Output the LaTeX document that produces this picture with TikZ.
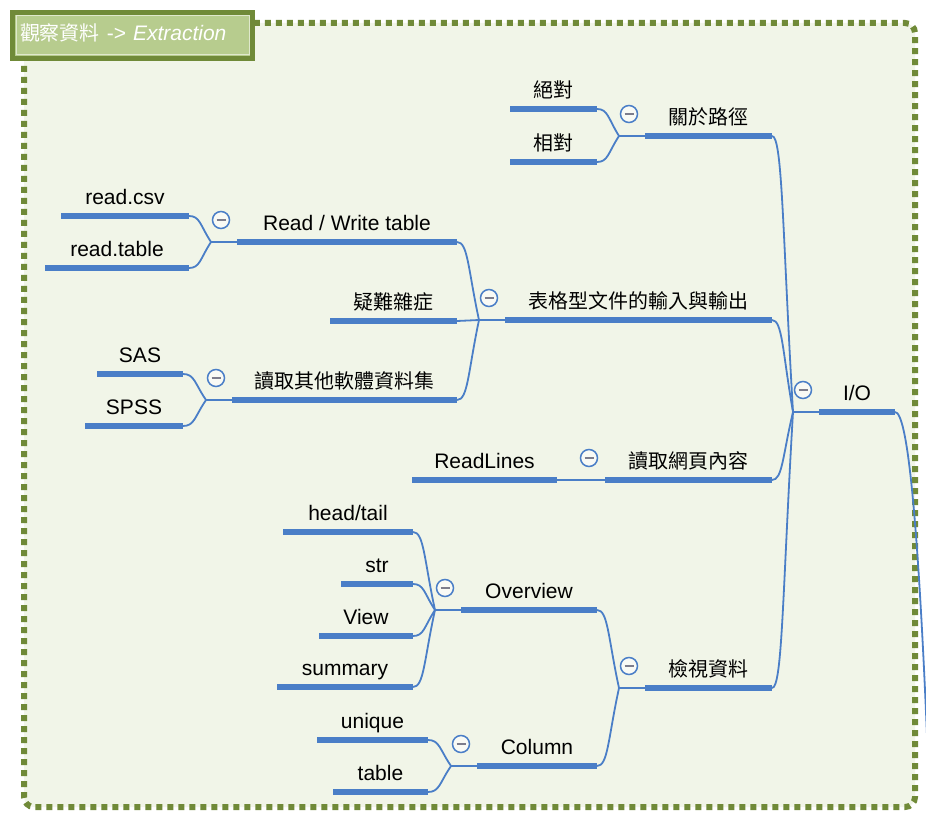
\documentclass[tikz,border=0pt]{standalone}
\usepackage{fontspec}
\setmainfont{Liberation Sans}
\newfontfamily\cjk[Scale=0.95]{Noto Sans CJK TC}
\usetikzlibrary{calc}

\definecolor{panelfill}{RGB}{241,245,232}
\definecolor{dotgreen}{RGB}{112,138,56}
\definecolor{titlefill}{RGB}{183,204,142}
\definecolor{mapblue}{RGB}{74,126,199}
\definecolor{foldgray}{RGB}{125,125,140}

\tikzset{
  topic/.style={anchor=south, outer sep=0pt, inner xsep=0pt, inner ysep=7.5pt,
    text height=15pt, text depth=4pt, font=\fontsize{21}{25}\selectfont, text=black},
  bar/.style={mapblue, line width=6pt},
  link/.style={mapblue, line width=1.8pt},
  fold/.style={circle, draw=mapblue, line width=1.5pt, fill=white!55!panelfill,
    minimum size=17pt, inner sep=0pt,
    path picture={\draw[foldgray, line width=1.6pt]
      ([xshift=-4.5pt]path picture bounding box.center) --
      ([xshift=4.5pt]path picture bounding box.center);}},
  panel/.style={draw=dotgreen, line width=6pt, dash pattern=on 6pt off 5pt,
    fill=panelfill, rounded corners=10pt},
  titlebox/.style={draw=dotgreen, line width=5pt, fill=titlefill, outer sep=0pt,
    minimum width=240pt, minimum height=46pt, text width=225pt, align=left,
    inner xsep=7.5pt, inner ysep=0pt, text height=15pt, text depth=4pt,
    text=white, font=\fontsize{21}{25}\selectfont}
}

\begin{document}
\begin{tikzpicture}[x=1pt, y=-1pt]
\useasboundingbox (0,0) rectangle (926,818);
\fill[white] (0,0) rectangle (926,818);

% Frame and title
\draw[panel] (24,23) rectangle (915,807);
\node[titlebox] (title) at (132.5,35.5) {{\cjk 觀察資料} -> \textit{Extraction}};
\draw[white!55!titlefill, line width=1pt] ([shift={(3.5,3.5)}]title.north west) rectangle ([shift={(-3.5,-3.5)}]title.south east);

% Root
\node[topic, minimum width=76pt] (io) at (857,412) {I/O};

% First level
\node[topic, minimum width=127pt] (route) at (708.5,136) {{\cjk 關於路徑}};
\node[topic, minimum width=267pt] (tbl) at (638.5,320) {{\cjk 表格型文件的輸入與輸出}};
\node[topic, minimum width=167pt] (web) at (688.5,480) {{\cjk 讀取網頁內容}};
\node[topic, minimum width=127pt] (view) at (708.5,688) {{\cjk 檢視資料}};

% Second level
\node[topic, minimum width=87pt] (abs) at (553.5,109) {{\cjk 絕對}};
\node[topic, minimum width=87pt] (rel) at (553.5,162) {{\cjk 相對}};
\node[topic, minimum width=220pt] (rw) at (347,242) {Read / Write table};
\node[topic, minimum width=127pt] (misc) at (393.5,321) {{\cjk 疑難雜症}};
\node[topic, minimum width=225pt] (other) at (344.5,400) {{\cjk 讀取其他軟體資料集}};
\node[topic, minimum width=145pt] (rlines) at (484.5,480) {ReadLines};
\node[topic, minimum width=136pt] (ovw) at (529,610) {Overview};
\node[topic, minimum width=120pt] (col) at (537,766) {Column};

% Third level
\node[topic, minimum width=128pt] (rcsv) at (125,216) {read.csv};
\node[topic, minimum width=144pt] (rtab) at (117,268) {read.table};
\node[topic, minimum width=86pt] (sas) at (140,374) {SAS};
\node[topic, minimum width=98pt] (spss) at (134,426) {SPSS};
\node[topic, minimum width=130pt] (hdtl) at (348,532) {head/tail};
\node[topic, minimum width=72pt] (str) at (377,584) {str};
\node[topic, minimum width=94pt] (vw) at (366,636) {View};
\node[topic, minimum width=136pt] (smry) at (345,687) {summary};
\node[topic, minimum width=111pt] (uniq) at (372.5,740) {unique};
\node[topic, minimum width=95pt] (tabl) at (380.5,792) {table};

% Hubs
\foreach \n in {io,route,tbl,rw,other,web,view,ovw,col}
  \coordinate (\n B) at ($(\n.south west)+(-26,0)$);

\foreach \n in {io,route,tbl,rw,other,web,view,ovw,col}
  \draw[link] (\n.south west) -- (\n B);

\draw[link] (rlines.south east) -- (webB);

% Curved links
\foreach \kid/\hub in {route/ioB,tbl/ioB,web/ioB,view/ioB,
                      abs/routeB,rel/routeB,
                      rw/tblB,misc/tblB,other/tblB,
                      rcsv/rwB,rtab/rwB,sas/otherB,spss/otherB,
                      ovw/viewB,col/viewB,
                      hdtl/ovwB,str/ovwB,vw/ovwB,smry/ovwB,
                      uniq/colB,tabl/colB}
  \draw[link] let \p1=(\kid.south east), \p2=(\hub) in
    (\p1) .. controls ({(\x1+\x2)/2},\y1) and ({(\x1+\x2)/2},{0.65*\y1+0.35*\y2}) .. (\p2);

% Link to the parent below
\coordinate (up) at (928,760);
\draw[link] (io.south east) .. controls +(12,0) and +(-10,-250) .. (up);

% Underlines
\foreach \n in {io,route,tbl,web,view,abs,rel,rw,misc,other,rlines,ovw,col,
                rcsv,rtab,sas,spss,hdtl,str,vw,smry,uniq,tabl}
  \draw[bar] (\n.south west) -- (\n.south east);

% Fold markers
\foreach \n in {io,route,tbl,rw,other,web,view,ovw,col}
  \node[fold] (\n F) at ($(\n B)+(10,-22)$) {};

\end{tikzpicture}
\end{document}
